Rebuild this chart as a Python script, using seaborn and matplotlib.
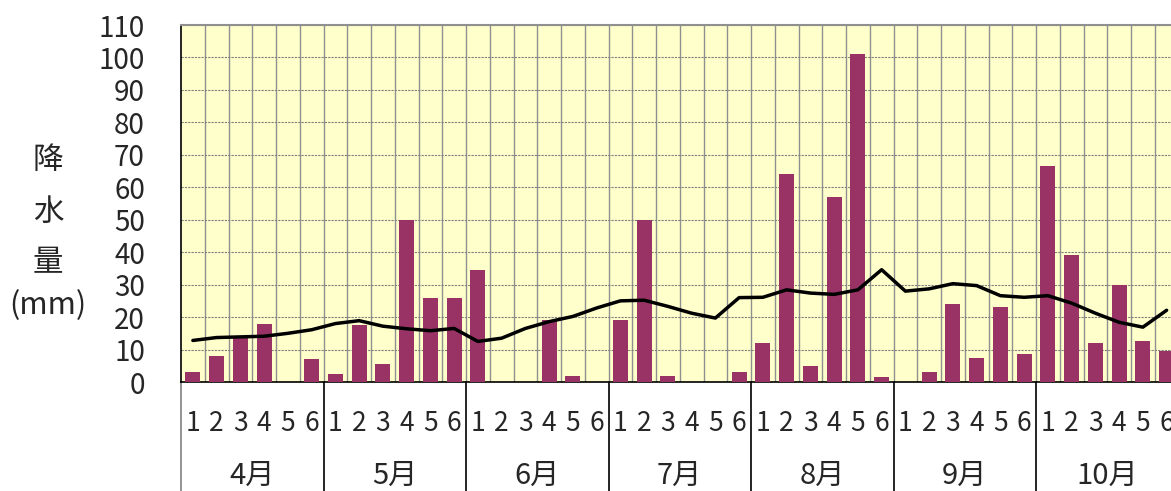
import numpy as np
import pandas as pd
import matplotlib
matplotlib.use("Agg")
import matplotlib.pyplot as plt
import matplotlib.transforms as mtransforms
import seaborn as sns

# pentad precipitation (mm), April-October, 6 pentads per month
months = ["4月", "5月", "6月", "7月", "8月", "9月", "10月"]
pentads = ["1", "2", "3", "4", "5", "6"]
rain = [3, 8, 14, 18, 0, 7,
        2.5, 17.5, 5.5, 50, 26, 26,
        34.5, 0, 0, 19, 2, 0,
        19, 50, 2, 0, 0, 3,
        12, 64, 5, 57, 101, 1.5,
        0, 3, 24, 7.5, 23, 8.5,
        66.5, 39, 12, 30, 12.5, 9.5]
# normal values (line)
normal = [12.8, 13.7, 13.9, 14.1, 15.0, 16.1,
          18.0, 18.9, 17.2, 16.4, 15.8, 16.5,
          12.5, 13.5, 16.5, 18.6, 20.2, 22.8,
          25.0, 25.2, 23.3, 21.2, 19.7, 26.0,
          26.1, 28.4, 27.4, 27.0, 28.4, 34.6,
          28.0, 28.7, 30.3, 29.7, 26.6, 26.1,
          26.6, 24.3, 21.2, 18.4, 16.9, 22.1]

df = pd.DataFrame({"pos": np.arange(len(rain)), "rain": rain, "normal": normal})

sns.set_style("white")
plt.rcParams["font.family"] = ["Noto Sans CJK JP", "DejaVu Sans"]

fig = plt.figure(figsize=(11.71, 4.91), dpi=100)
ax = fig.add_axes([181 / 1171, 109 / 491, 997.5 / 1171, 357 / 491])
ax.set_facecolor("#FFFFCC")

sns.barplot(data=df, x="pos", y="rain", color="#993366", saturation=1,
            width=0.63, linewidth=0, ax=ax, zorder=3)
sns.lineplot(data=df, x="pos", y="normal", color="black", linewidth=2.5,
             ax=ax, zorder=4)

ax.set_xlim(-0.5, len(rain) - 0.5)
ax.set_ylim(0, 110)
ax.set_yticks(np.arange(0, 111, 10))
ax.tick_params(axis="y", direction="in", length=6, width=1, color="black",
               labelsize=20, pad=26)
ax.set_xticks(np.arange(len(rain)))
ax.set_xticklabels(pentads * len(months), fontsize=19)
ax.tick_params(axis="x", length=0, pad=20)
ax.set_xlabel("")
ax.set_ylabel("")

# grid
ax.set_xticks(np.arange(0.5, len(rain) - 1, 1), minor=True)
ax.grid(which="minor", axis="x", color="#909090", linewidth=1, zorder=1)
ax.grid(which="major", axis="y", color="#808080", linewidth=0.8,
        linestyle=(0, (2, 1)), zorder=1)
ax.grid(which="major", axis="x", visible=False)
ax.set_axisbelow(True)

for s in ["left", "bottom"]:
    ax.spines[s].set_color("black")
    ax.spines[s].set_linewidth(1.2)
ax.spines["top"].set_color("#909090")
ax.spines["top"].set_linewidth(1.5)
ax.spines["right"].set_visible(False)

# month separators and labels under the axis
trans = mtransforms.blended_transform_factory(ax.transData, ax.transAxes)
for i, m in enumerate(months):
    x0 = i * 6 - 0.5
    ax.plot([x0, x0], [0, -0.31], transform=trans, clip_on=False,
            color="#808080" if i == 0 else "black", linewidth=1.2)
    ax.text(x0 + 3, -0.262, m, transform=trans, ha="center", va="center",
            fontsize=21)

# stacked y label
for txt, y, fs in [("降", 160, 22), ("水", 212, 22), ("量", 263, 22),
                   ("(mm)", 306, 22)]:
    fig.text(48 / 1171, 1 - y / 491, txt, ha="center", va="center", fontsize=fs)

fig.savefig("out.png", dpi=100)
